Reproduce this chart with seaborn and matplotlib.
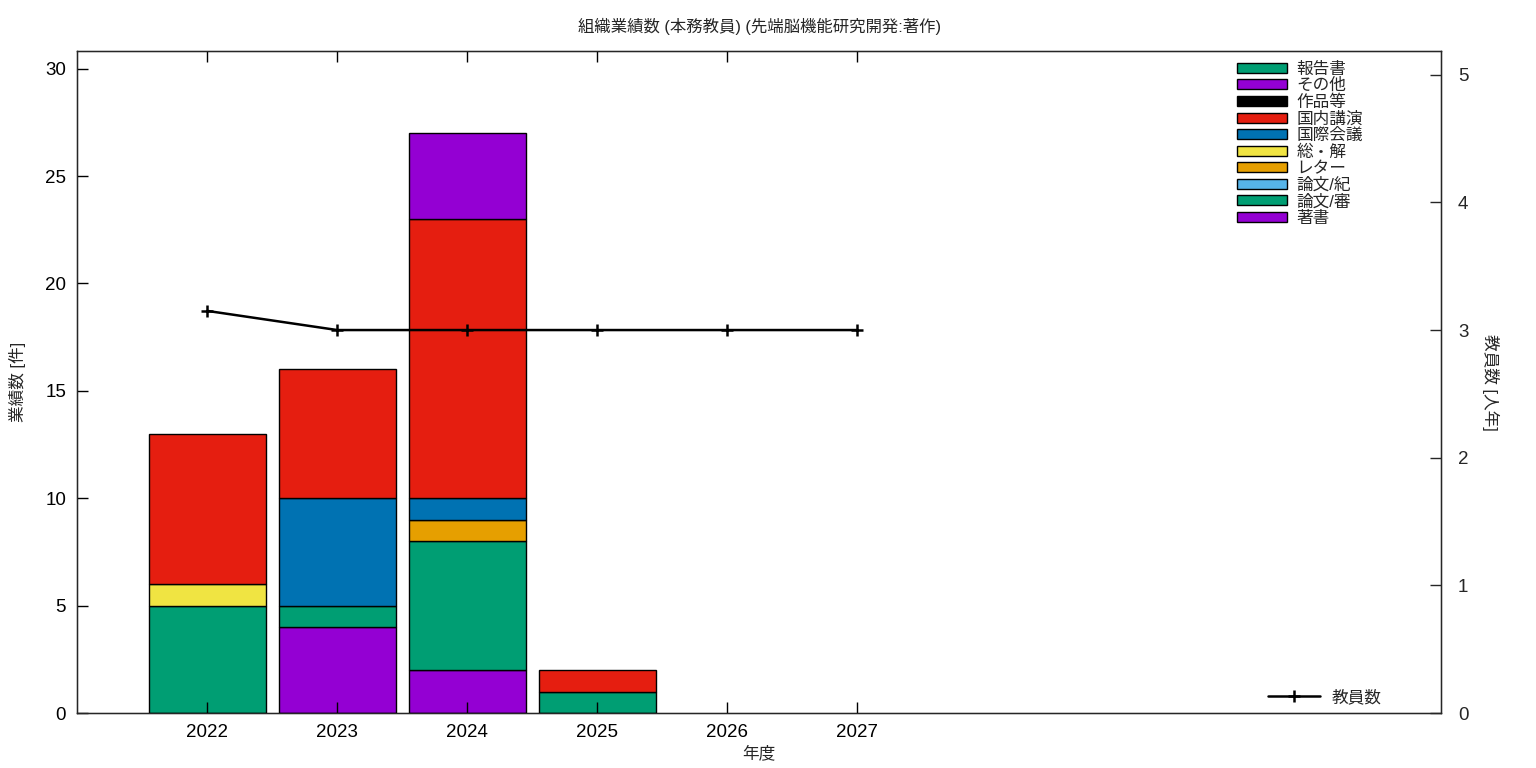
import matplotlib
matplotlib.use("Agg")
import matplotlib.pyplot as plt
from matplotlib.patches import Patch
from matplotlib.lines import Line2D
import seaborn as sns
import pandas as pd
import numpy as np

years = [2022, 2023, 2024, 2025, 2026, 2027]

# stacked categories (bottom -> top)
categories = ["著書", "論文/審", "論文/紀", "レター", "総・解", "国際会議", "国内講演", "作品等", "その他", "報告書"]
colors = ["#9400D3", "#009E73", "#56B4E9", "#E69F00", "#F0E442", "#0072B2", "#E51E10", "#000000", "#9400D3", "#009E73"]

chosho    = [0, 4, 2, 0, 0, 0]
ronbun_s  = [5, 1, 6, 1, 0, 0]
ronbun_k  = [0, 0, 0, 0, 0, 0]
letter    = [0, 0, 1, 0, 0, 0]
sokai     = [1, 0, 0, 0, 0, 0]
kokusai   = [0, 5, 1, 0, 0, 0]
kokunai   = [7, 6, 13, 1, 0, 0]
sakuhin   = [0, 0, 0, 0, 0, 0]
sonota    = [0, 0, 4, 0, 0, 0]
hokoku    = [0, 0, 0, 0, 0, 0]
series = [chosho, ronbun_s, ronbun_k, letter, sokai, kokusai, kokunai, sakuhin, sonota, hokoku]

staff = [3.15, 3, 3, 3, 3, 3]

sns.set_style("white")
plt.rcParams["font.family"] = ["Liberation Sans", "Noto Sans CJK JP", "DejaVu Sans"]

fig = plt.figure(figsize=(15.36, 7.68), dpi=100)
ax = fig.add_axes([0.0503, 0.0716, 0.888, 0.862])

bottom = np.zeros(len(years))
for name, col, vals in zip(categories, colors, series):
    vals = np.array(vals, dtype=float)
    mask = vals > 0
    if mask.any():
        ax.bar(np.array(years)[mask], vals[mask], width=0.9, bottom=bottom[mask],
               color=col, edgecolor="black", linewidth=1.0, zorder=1)
    bottom += vals

ax.set_axisbelow(False)
ax.set_xlim(2021.0, 2031.49)
ax.set_ylim(0, 30.82)
ax.set_xticks(years)
ax.set_xticklabels([str(y) for y in years])
ax.set_yticks([0, 5, 10, 15, 20, 25, 30])
ax.tick_params(axis="both", direction="in", length=8, width=1, labelsize=13.5, colors="black")
ax.tick_params(axis="x", top=True, bottom=True, pad=8)
ax.tick_params(axis="y", left=True, right=False, pad=8)
for sp in ax.spines.values():
    sp.set_visible(True)
    sp.set_color("black")
    sp.set_linewidth(1.0)
ax.set_xlabel("年度", fontsize=12, labelpad=3)
ax.set_ylabel("業績数 [件]", fontsize=12, labelpad=14)
ax.set_title("組織業績数 (本務教員) (先端脳機能研究開発:著作)", fontsize=11.8, pad=14)

ax2 = ax.twinx()
df = pd.DataFrame({"year": years, "staff": staff})
sns.lineplot(data=df, x="year", y="staff", ax=ax2, color="black", linewidth=1.8,
             marker="+", markersize=9, markeredgewidth=1.8, markeredgecolor="black")
ax2.set_ylim(0, 5.186)
ax2.set_xlim(2021.0, 2031.49)
ax2.set_yticks([0, 1, 2, 3, 4, 5])
ax2.tick_params(axis="y", direction="in", length=8, width=1, labelsize=13.5, pad=12, right=True)
ax2.set_ylabel("教員数 [人年]", fontsize=12, rotation=270, labelpad=22)
ax2.set_xlabel("")

handles = [Patch(facecolor=c, edgecolor="black", linewidth=1.0, label=n)
           for n, c in zip(categories, colors)][::-1]
leg = ax2.legend(handles=handles, loc="upper left", bbox_to_anchor=(0.850, 0.984),
                 frameon=False, fontsize=12, handlelength=3.0, handleheight=0.55,
                 labelspacing=0.08, handletextpad=0.6, borderpad=0, borderaxespad=0)
ax2.add_artist(leg)
line_h = [Line2D([0], [0], color="black", linewidth=1.8, marker="+", markersize=9,
                 markeredgewidth=1.8, label="教員数")]
ax2.legend(handles=line_h, loc="center left", bbox_to_anchor=(0.873, 0.024),
           frameon=False, fontsize=12, handlelength=3.1, handletextpad=0.7,
           borderpad=0, borderaxespad=0)

fig.savefig("out.png", dpi=100)
